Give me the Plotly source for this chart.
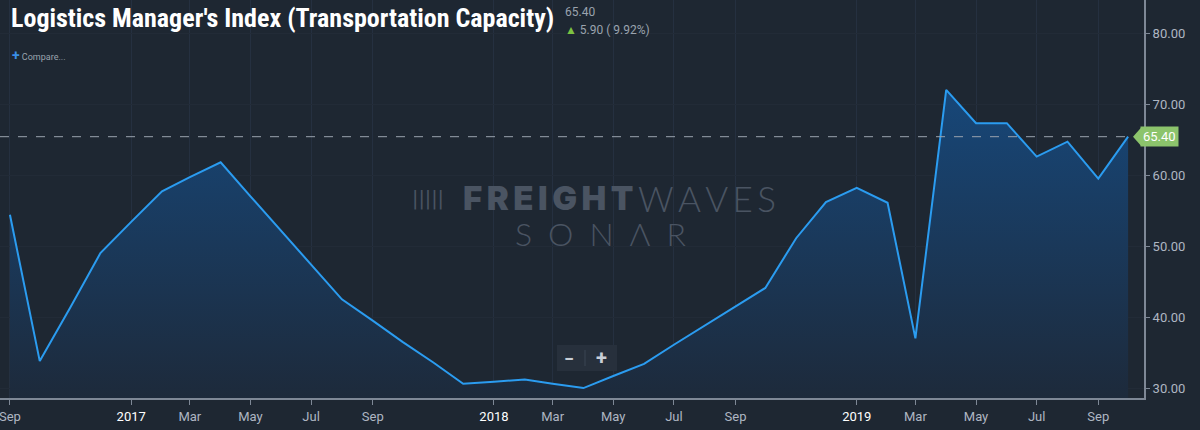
import plotly.graph_objects as go
import pandas as pd

# monthly LMI transportation capacity readings, Sep 2016 - Oct 2019
months = pd.date_range("2016-09-01", "2019-10-01", freq="MS")
capacity = [
    54.4, 33.8, 41.4, 49.0,
    53.4, 57.7, 59.7, 61.8, 57.0, 52.1, 47.3, 42.5, 39.5, 36.5, 33.6, 30.6,
    30.9, 31.2, 30.6, 30.0, 31.7, 33.4, 36.1, 38.8, 41.4, 44.1, 51.1, 56.2,
    58.2, 56.1, 37.0, 72.0, 67.3, 67.3, 62.6, 64.7, 59.5, 65.4,
]
last_value = capacity[-1]
change = 5.90
change_pct = 9.92

tick_dates = ["2016-09-01", "2017-01-01", "2017-03-01", "2017-05-01", "2017-07-01",
              "2017-09-01", "2018-01-01", "2018-03-01", "2018-05-01", "2018-07-01",
              "2018-09-01", "2019-01-01", "2019-03-01", "2019-05-01", "2019-07-01",
              "2019-09-01"]
tick_labels = ["Sep", "2017", "Mar", "May", "Jul", "Sep", "2018", "Mar", "May", "Jul",
               "Sep", "2019", "Mar", "May", "Jul", "Sep"]
y_ticks = [30, 40, 50, 60, 70, 80]

BG = "#1e2732"
GRID = "#253040"
AXIS = "#7e8896"
LABEL = "#aeb6c2"
MARK = "#4a5462"

# years are drawn brighter than the month names
tick_text = [
    f"<span style='color:#ffffff'>{t}</span>" if t.isdigit() else t
    for t in tick_labels
]

fig = go.Figure()

fig.add_trace(go.Scatter(
    x=months,
    y=capacity,
    mode="lines",
    line=dict(color="#2b9cf0", width=2),
    fill="tozeroy",
    fillgradient=dict(
        type="vertical",
        colorscale=[[0, "#1d2a3b"], [1, "#174779"]],
        start=28.6,
        stop=72,
    ),
    hovertemplate="%{x|%b %Y}: %{y:.2f}<extra></extra>",
    showlegend=False,
))

fig.update_layout(
    width=1200,
    height=430,
    paper_bgcolor=BG,
    plot_bgcolor=BG,
    margin=dict(l=0, r=56, t=0, b=32),
    font=dict(family="Roboto, sans-serif", color=LABEL, size=13),
    xaxis=dict(
        range=["2016-08-22", "2019-10-17"],
        tickvals=tick_dates,
        ticktext=tick_text,
        ticklabeloverflow="allow",
        showgrid=True,
        gridcolor=GRID,
        gridwidth=1,
        showline=True,
        linecolor=AXIS,
        linewidth=2,
        ticks="outside",
        ticklen=5,
        tickcolor=AXIS,
        tickfont=dict(size=13, color=LABEL),
        zeroline=False,
    ),
    yaxis=dict(
        side="right",
        range=[28.6, 84.65],
        tickvals=y_ticks,
        tickformat=".2f",
        showgrid=True,
        gridcolor="#222b37",
        showline=True,
        linecolor=AXIS,
        linewidth=2,
        ticks="outside",
        ticklen=4,
        tickcolor=AXIS,
        tickfont=dict(size=13, color=LABEL),
        zeroline=False,
    ),
)

# dashed line at the latest value
fig.add_hline(y=last_value, line=dict(color="#9aa3ae", width=1, dash="dash"))

# green price tag on the axis
fig.add_shape(
    type="path",
    xref="paper", yref="y",
    xsizemode="pixel", ysizemode="pixel",
    xanchor=1, yanchor=last_value,
    path="M -11,0 L -3,9 L -3,-9 Z",
    fillcolor="#8cc46c", line=dict(width=0),
)
fig.add_annotation(
    x=1, y=last_value, xref="paper", yref="y",
    xanchor="left", yanchor="middle", xshift=-4,
    text=f"{last_value:.2f}", showarrow=False,
    bgcolor="#8cc46c", borderpad=2,
    font=dict(size=13, color="#ffffff"),
)

# title block
fig.add_annotation(
    x=0, y=1, xref="paper", yref="paper", xanchor="left", yanchor="top",
    xshift=9, yshift=-1,
    text="<b>Logistics Manager's Index (Transportation Capacity)</b>",
    showarrow=False,
    font=dict(family="Roboto Condensed, Liberation Sans Narrow, Roboto", size=26, color="#ffffff"),
)
fig.add_annotation(
    x=563 / 1144, y=1, xref="paper", yref="paper", xanchor="left", yanchor="middle",
    yshift=-12, text=f"{last_value:.2f}", showarrow=False,
    font=dict(size=12, color="#9aa3ae"),
)
fig.add_annotation(
    x=563 / 1144, y=1, xref="paper", yref="paper", xanchor="left", yanchor="middle",
    yshift=-30,
    text=f"<span style='color:#7cc242'>▲</span> {change:.2f} ( {change_pct:.2f}%)",
    showarrow=False,
    font=dict(size=12, color="#9aa3ae"),
)
fig.add_annotation(
    x=0, y=1, xref="paper", yref="paper", xanchor="left", yanchor="middle",
    xshift=10, yshift=-55,
    text="<span style='color:#3a8ee6;font-size:14px'><b>+</b></span> Compare...",
    showarrow=False,
    font=dict(size=9, color="#9aa3ae"),
)

# watermark
wm_y = 1 - 198 / 398
fig.add_annotation(
    x=446 / 1144, y=wm_y, xref="paper", yref="paper", xanchor="right", yanchor="middle",
    text="|||||", showarrow=False,
    font=dict(family="DejaVu Sans", size=19, color=MARK),
)
fig.add_annotation(
    x=636 / 1144, y=wm_y, xref="paper", yref="paper", xanchor="right", yanchor="middle",
    text="F\u2009R\u2009E\u2009I\u2009G\u2009H\u2009T", showarrow=False,
    font=dict(family="Inter, DejaVu Sans", size=33, color=MARK, weight=900),
)
fig.add_annotation(
    x=636 / 1144, y=wm_y, xref="paper", yref="paper", xanchor="left", yanchor="middle",
    text="W\u2009A\u2009V\u2009E\u2009S", showarrow=False,
    font=dict(family="Lato", size=35, color=MARK, weight=300),
)
fig.add_annotation(
    x=0.5245, y=1 - 233 / 398, xref="paper", yref="paper", yanchor="middle",
    text="S\u2002O\u2002N\u2002Λ\u2002R",
    showarrow=False,
    font=dict(family="Lato", size=32, color=MARK, weight=300),
)

# zoom control box
fig.add_shape(
    type="rect", xref="paper", yref="paper",
    x0=557 / 1144, x1=617 / 1144, y0=1 - 371 / 398, y1=1 - 345 / 398,
    fillcolor="#27303c", line=dict(width=0),
)
fig.add_shape(
    type="line", xref="paper", yref="paper",
    x0=585 / 1144, x1=585 / 1144, y0=1 - 366 / 398, y1=1 - 350 / 398,
    line=dict(color="#3a4452", width=1),
)
fig.add_annotation(
    x=569 / 1144, y=1 - 358 / 398, xref="paper", yref="paper",
    xanchor="center", yanchor="middle",
    text="<b>−</b>", showarrow=False, font=dict(size=18, color="#c8ced6"),
)
fig.add_annotation(
    x=601 / 1144, y=1 - 358 / 398, xref="paper", yref="paper",
    xanchor="center", yanchor="middle",
    text="<b>+</b>", showarrow=False, font=dict(size=20, color="#c8ced6"),
)

fig.write_html(
    "out.html",
    config={"displayModeBar": False},
    post_script="document.body.style.margin='0px';",
)
